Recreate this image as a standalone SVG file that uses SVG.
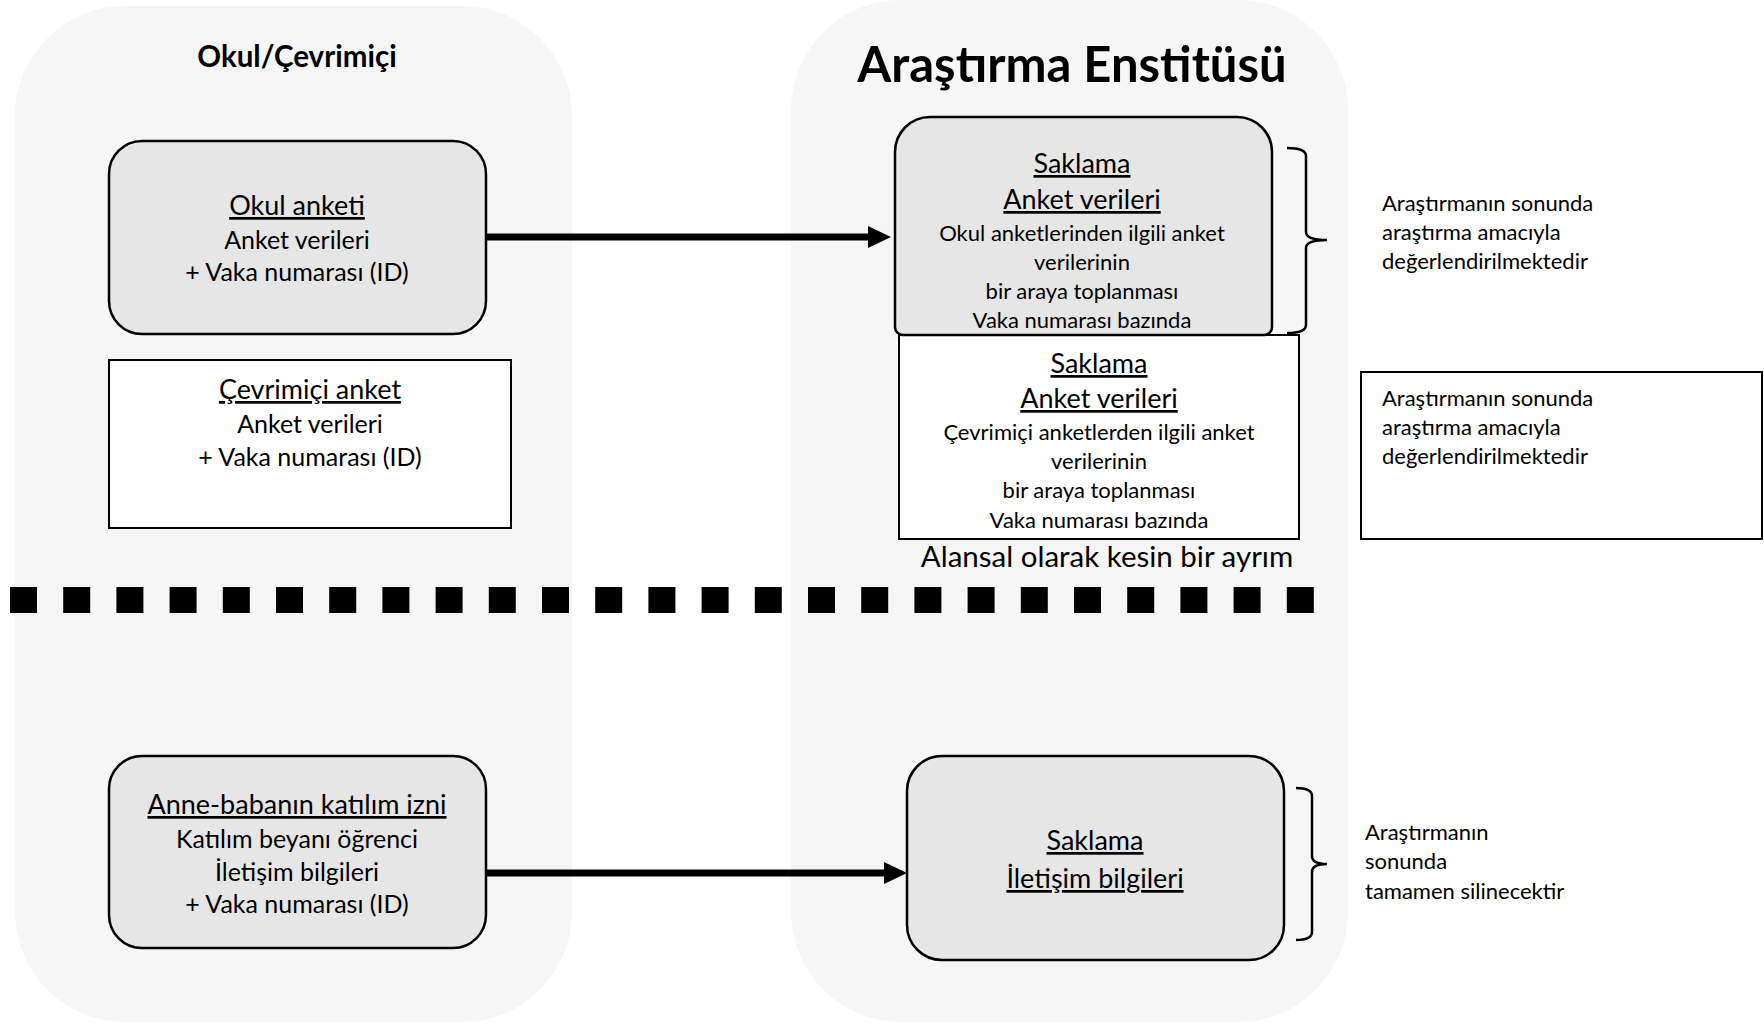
<svg xmlns="http://www.w3.org/2000/svg" width="1764" height="1024" viewBox="0 0 1764 1024">
<style>
text{font-family:Lato,"Liberation Sans","DejaVu Sans",sans-serif;fill:#000}
.c{text-anchor:middle}
.t{font-weight:bold}
.h{font-size:27px;text-decoration:underline}
.b{font-size:25px}
.s{font-size:22px}
.panel{fill:#f6f6f6}
.gbox{fill:#e6e6e6;stroke:#000;stroke-width:2.5}
.wbox{fill:#fff;stroke:#000;stroke-width:2}
.brace{fill:none;stroke:#000;stroke-width:2.5}
.conn{stroke:#000;stroke-width:7;fill:none}
</style>
<defs>
<marker id="ah" viewBox="0 0 23 22" refX="0" refY="11" markerWidth="23" markerHeight="22" markerUnits="userSpaceOnUse" orient="auto">
<path d="M0 0L23 11L0 22z" fill="#000"/>
</marker>
</defs>
<rect width="1764" height="1024" fill="#fff"/>
<g id="panel-left">
<rect class="panel" x="15" y="6" width="557" height="1016" rx="110"/>
<text class="c t" x="297" y="67" font-size="29.5">Okul/Çevrimiçi</text>
</g>
<g id="panel-right">
<rect class="panel" x="791" y="0" width="557" height="1022" rx="110"/>
<text class="c t" x="1072" y="82" font-size="49">Araştırma Enstitüsü</text>
</g>
<g id="separator">
<path d="M10 600H1314" stroke="#000" stroke-width="26" stroke-dasharray="27 26.2"/>
<text class="c" x="1107" y="567" font-size="29.5">Alansal olarak kesin bir ayrım</text>
</g>
<g id="okul-anketi">
<rect class="gbox" x="109" y="141" width="377" height="193" rx="33"/>
<text class="c h" x="297" y="215">Okul anketi</text>
<text class="c b" x="297" y="249">Anket verileri</text>
<text class="c b" x="297" y="281">+ Vaka numarası (ID)</text>
</g>
<g id="cevrimici-anket">
<rect class="wbox" x="109" y="360" width="402" height="168"/>
<text class="c h" x="310" y="399">Çevrimiçi anket</text>
<text class="c b" x="310" y="433">Anket verileri</text>
<text class="c b" x="310" y="466">+ Vaka numarası (ID)</text>
</g>
<g id="anne-baba">
<rect class="gbox" x="109" y="756" width="377" height="192" rx="33"/>
<text class="c h" x="297" y="814">Anne-babanın katılım izni</text>
<text class="c b" x="297" y="848">Katılım beyanı öğrenci</text>
<text class="c b" x="297" y="881">İletişim bilgileri</text>
<text class="c b" x="297" y="913">+ Vaka numarası (ID)</text>
</g>
<g id="saklama-cevrimici">
<rect class="wbox" x="899" y="335" width="400" height="204"/>
<text class="c h" x="1099" y="373">Saklama</text>
<text class="c h" x="1099" y="408">Anket verileri</text>
<text class="c s" x="1099" y="440">Çevrimiçi anketlerden ilgili anket</text>
<text class="c s" x="1099" y="469">verilerinin</text>
<text class="c s" x="1099" y="498">bir araya toplanması</text>
<text class="c s" x="1099" y="528">Vaka numarası bazında</text>
</g>
<g id="saklama-okul">
<path class="gbox" d="M930 117H1237A35 35 0 0 1 1272 152V327A8 8 0 0 1 1264 335H903A8 8 0 0 1 895 327V152A35 35 0 0 1 930 117z"/>
<text class="c h" x="1082" y="173">Saklama</text>
<text class="c h" x="1082" y="209">Anket verileri</text>
<text class="c s" x="1082" y="241">Okul anketlerinden ilgili anket</text>
<text class="c s" x="1082" y="270">verilerinin</text>
<text class="c s" x="1082" y="299">bir araya toplanması</text>
<text class="c s" x="1082" y="328">Vaka numarası bazında</text>
</g>
<g id="saklama-iletisim">
<rect class="gbox" x="907" y="756" width="377" height="204" rx="35"/>
<text class="c h" x="1095" y="850">Saklama</text>
<text class="c h" x="1095" y="888">İletişim bilgileri</text>
</g>
<g id="note-okul">
<path class="brace" d="M1287 148Q1306 148 1306 156V232Q1306 240 1327 240Q1306 240 1306 248V325Q1306 333 1287 333"/>
<text class="s" x="1382" y="211">Araştırmanın sonunda</text>
<text class="s" x="1382" y="240">araştırma amacıyla</text>
<text class="s" x="1382" y="269">değerlendirilmektedir</text>
</g>
<g id="note-cevrimici">
<rect class="wbox" x="1361" y="372" width="401" height="167"/>
<text class="s" x="1382" y="406">Araştırmanın sonunda</text>
<text class="s" x="1382" y="435">araştırma amacıyla</text>
<text class="s" x="1382" y="464">değerlendirilmektedir</text>
</g>
<g id="note-iletisim">
<path class="brace" d="M1296 788Q1312 788 1312 796V856Q1312 864 1327 864Q1312 864 1312 872V932Q1312 940 1296 940"/>
<text class="s" x="1365" y="840">Araştırmanın</text>
<text class="s" x="1365" y="869">sonunda</text>
<text class="s" x="1365" y="899">tamamen silinecektir</text>
</g>
<g id="connectors">
<path class="conn" d="M486 237H868" marker-end="url(#ah)"/>
<path class="conn" d="M486 873H884" marker-end="url(#ah)"/>
</g>
</svg>
